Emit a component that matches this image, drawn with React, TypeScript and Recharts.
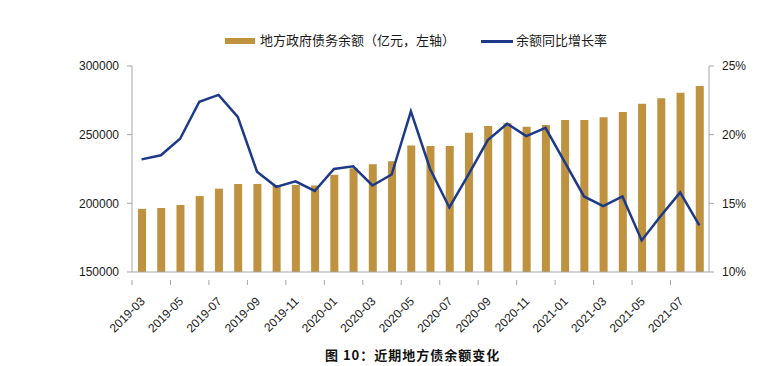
import React from "react";
import {
  ComposedChart,
  Bar,
  Line,
  XAxis,
  YAxis,
} from "recharts";

// months shown on the category axis (every other label is drawn)
const months = [
  "2019-03", "2019-04", "2019-05", "2019-06", "2019-07", "2019-08",
  "2019-09", "2019-10", "2019-11", "2019-12", "2020-01", "2020-02",
  "2020-03", "2020-04", "2020-05", "2020-06", "2020-07", "2020-08",
  "2020-09", "2020-10", "2020-11", "2020-12", "2021-01", "2021-02",
  "2021-03", "2021-04", "2021-05", "2021-06", "2021-07", "2021-08",
];

// 地方政府债务余额（亿元）
const balance = [
  196000, 196600, 198800, 205300, 210700, 214100,
  214100, 213400, 213400, 212900, 220900, 225500,
  228400, 230600, 242200, 241800, 241800, 251400,
  256300, 258300, 255800, 257000, 260700, 260700,
  262600, 266500, 272600, 276500, 280600, 285400,
];

// 余额同比增长率 (%)
const growth = [
  18.2, 18.5, 19.7, 22.4, 22.9, 21.3,
  17.3, 16.2, 16.6, 15.9, 17.5, 17.7,
  16.3, 17.1, 21.7, 17.5, 14.7, 17.1,
  19.6, 20.8, 19.9, 20.5, 18.0, 15.5,
  14.8, 15.5, 12.3, 14.1, 15.8, 13.4,
];

const leftTicks = [150000, 200000, 250000, 300000];
const rightTicks = [10, 15, 20, 25];

const BAR_LABEL = "地方政府债务余额（亿元，左轴）";
const LINE_LABEL = "余额同比增长率";
const TITLE = "图 10：近期地方债余额变化";

const COLORS = {
  bar: "#BF9240",
  line: "#1C3A87",
  axis: "#A6A6A6",
  text: "#1a1a1a",
};

const FONT = '"Liberation Sans", Arial, "Noto Sans CJK SC", sans-serif';

const W = 780;
const H = 366;
const PLOT_LEFT = 132;
const PLOT_RIGHT = 709;
const PLOT_TOP = 66;
const PLOT_BOTTOM = 272;
const BAND = (PLOT_RIGHT - PLOT_LEFT) / months.length;

const data = months.map((m, i) => ({
  month: m,
  balance: balance[i],
  growth: growth[i],
}));

// rotated month label plus a tick mark on the category boundary
function MonthTick(props: any) {
  const { x, y, payload } = props;
  const bx = x - BAND / 2;
  return (
    <g>
      <line x1={bx} y1={y} x2={bx} y2={y + 5} stroke={COLORS.axis} />
      <text
        x={x + 4}
        y={y + 22}
        transform={`rotate(-45, ${x + 4}, ${y + 22})`}
        textAnchor="end"
        fontSize={12}
        fontFamily={FONT}
        fill={COLORS.text}
      >
        {payload.value}
      </text>
    </g>
  );
}

export default function App() {
  return (
    <div
      style={{
        position: "absolute",
        left: 0,
        top: 0,
        width: W,
        height: H,
        background: "#fff",
        fontFamily: FONT,
      }}
    >
      {/* legend */}
      <div style={{ position: "absolute", left: 225, top: 38, width: 30, height: 6, background: COLORS.bar }} />
      <div style={{ position: "absolute", left: 260, top: 33, fontSize: 13, lineHeight: "16px", color: COLORS.text, whiteSpace: "nowrap" }}>
        {BAR_LABEL}
      </div>
      <div style={{ position: "absolute", left: 481, top: 40, width: 32, height: 2.5, background: COLORS.line }} />
      <div style={{ position: "absolute", left: 516, top: 33, fontSize: 13, lineHeight: "16px", color: COLORS.text, whiteSpace: "nowrap" }}>
        {LINE_LABEL}
      </div>

      <ComposedChart
        width={W}
        height={H}
        data={data}
        margin={{
          top: PLOT_TOP,
          right: W - PLOT_RIGHT - 50,
          left: PLOT_LEFT - 60,
          bottom: H - PLOT_BOTTOM - 60,
        }}
        barCategoryGap={0}
      >
        <XAxis
          dataKey="month"
          interval={1}
          height={60}
          tickLine={false}
          axisLine={{ stroke: COLORS.axis }}
          tick={<MonthTick />}
        />
        <YAxis
          yAxisId="left"
          width={60}
          domain={[150000, 300000]}
          ticks={leftTicks}
          allowDataOverflow
          tickSize={5}
          tickMargin={8}
          tickLine={{ stroke: COLORS.axis }}
          axisLine={{ stroke: COLORS.axis }}
          tick={{ fontSize: 12, fill: COLORS.text, fontFamily: FONT }}
        />
        <YAxis
          yAxisId="right"
          orientation="right"
          width={50}
          domain={[10, 25]}
          ticks={rightTicks}
          tickFormatter={(v: number) => `${v}%`}
          tickSize={5}
          tickMargin={8}
          tickLine={{ stroke: COLORS.axis }}
          axisLine={{ stroke: COLORS.axis }}
          tick={{ fontSize: 12, fill: COLORS.text, fontFamily: FONT, textAnchor: "start" }}
        />
        <Bar
          yAxisId="left"
          dataKey="balance"
          fill={COLORS.bar}
          barSize={8}
          isAnimationActive={false}
        />
        <Line
          yAxisId="right"
          dataKey="growth"
          type="linear"
          stroke={COLORS.line}
          strokeWidth={2.5}
          dot={false}
          isAnimationActive={false}
        />
      </ComposedChart>

      <div
        style={{
          position: "absolute",
          left: 325,
          top: 346,
          fontSize: 13,
          fontWeight: "bold",
          lineHeight: "18px",
          color: "#111",
          whiteSpace: "nowrap",
          fontFamily: '"Noto Sans CJK SC", "Liberation Serif", serif',
          letterSpacing: 1,
        }}
      >
        {TITLE}
      </div>
    </div>
  );
}
